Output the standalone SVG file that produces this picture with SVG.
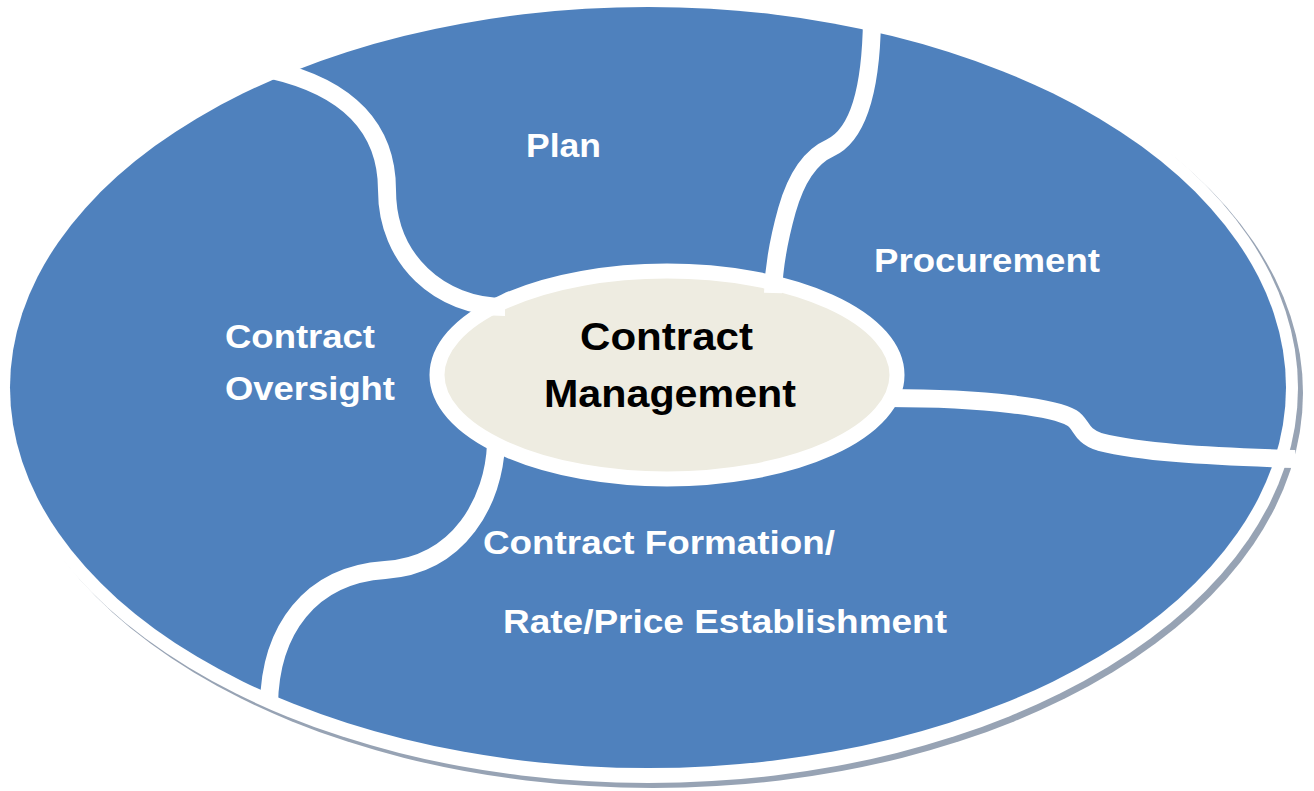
<svg xmlns="http://www.w3.org/2000/svg" width="1314" height="791" viewBox="0 0 1314 791">
  <style>
    .seg { fill: #4F81BD; }
    .divider { fill: none; stroke: #FFFFFF; stroke-width: 18; stroke-linecap: butt; }
    .lbl { font-family: "Liberation Sans", Arial, sans-serif; font-weight: bold; font-size: 34px; fill: #FFFFFF; }
    .ctr { font-family: "Liberation Sans", Arial, sans-serif; font-weight: bold; font-size: 39px; fill: #000000; }
  </style>
  <rect width="1314" height="791" fill="#FFFFFF"/>
  <g id="outer-ring">
    <ellipse cx="653" cy="393" rx="650" ry="395" fill="#97A3B4"/>
    <ellipse cx="648" cy="388" rx="650" ry="395" fill="#FFFFFF"/>
    <ellipse class="seg" cx="648" cy="387.5" rx="638" ry="380.5"/>
  </g>
  <g id="center-node">
    <ellipse cx="667" cy="375" rx="230" ry="104" fill="#EEECE1" stroke="#FFFFFF" stroke-width="15"/>
  </g>
  <g id="connectors">
    <path class="divider" d="M 272 70 C 350 88, 387 130, 387 190 C 387 260, 440 307, 505 307"/>
    <path class="divider" d="M 872 20 C 871 90, 858 135, 830 148 C 812 156, 797 175, 787 210 C 780 235, 774 262, 773 293"/>
    <path class="divider" d="M 888 398 C 990 398, 1055 408, 1072 418 C 1082 424, 1080 436, 1100 442 C 1140 452, 1200 456, 1295 459"/>
    <path class="divider" d="M 496 444 C 494 500, 460 565, 385 570 C 310 575, 270 630, 269 705"/>
  </g>
  <g id="node-plan">
    <text class="lbl" x="526" y="157" textLength="75" lengthAdjust="spacingAndGlyphs">Plan</text>
  </g>
  <g id="node-procurement">
    <text class="lbl" x="874" y="272" textLength="226" lengthAdjust="spacingAndGlyphs">Procurement</text>
  </g>
  <g id="node-oversight">
    <text class="lbl" x="225" y="348" textLength="150" lengthAdjust="spacingAndGlyphs">Contract</text>
    <text class="lbl" x="225" y="400" textLength="170" lengthAdjust="spacingAndGlyphs">Oversight</text>
  </g>
  <g id="node-formation">
    <text class="lbl" x="483" y="554" textLength="352" lengthAdjust="spacingAndGlyphs">Contract Formation/</text>
    <text class="lbl" x="503" y="633" textLength="444" lengthAdjust="spacingAndGlyphs">Rate/Price Establishment</text>
  </g>
  <g id="node-center-text">
    <text class="ctr" x="580" y="350" textLength="173" lengthAdjust="spacingAndGlyphs">Contract</text>
    <text class="ctr" x="544" y="407" textLength="252" lengthAdjust="spacingAndGlyphs">Management</text>
  </g>
</svg>
